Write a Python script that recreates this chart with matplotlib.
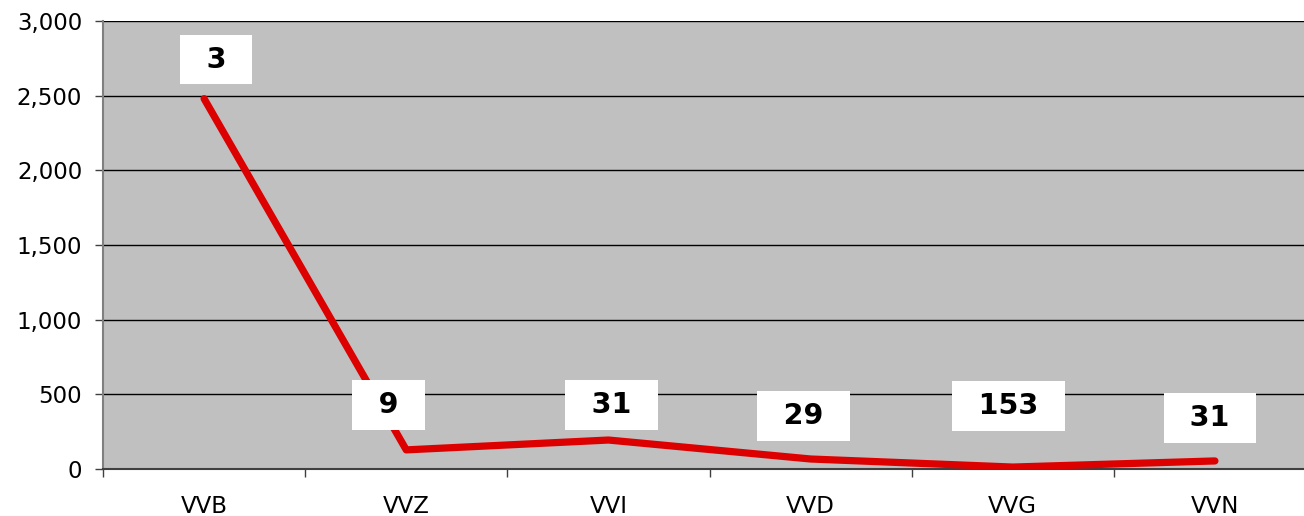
import matplotlib.pyplot as plt
from matplotlib.ticker import FixedLocator, FuncFormatter

categories = ["VVB", "VVZ", "VVI", "VVD", "VVG", "VVN"]
values = [2480, 128, 194, 67, 13, 54]
point_labels = ["3", "9", "31", "29", "153", "31"]

# label box offsets from their point, in pixels
label_offsets = [(12, 39), (-18, 45), (3, 35), (-7, 43), (-4, 61), (-5, 43)]

fig = plt.figure(figsize=(13.04, 5.16), dpi=100)
# plot area runs a bit past the right edge of the image, as in the original
ax = fig.add_axes([103 / 1304, 1 - 469 / 516, 1213 / 1304, (469 - 21) / 516])
ax.set_facecolor("#C0C0C0")

x = list(range(len(categories)))
ax.plot(x, values, color="#DD0000", lw=5.2, solid_capstyle="round",
        solid_joinstyle="round", zorder=3)

side = " \u2009"
for xi, v, lab, (dx, dy) in zip(x, values, point_labels, label_offsets):
    ax.annotate(side + lab + side[::-1], (xi, v), xytext=(dx, dy),
                textcoords="offset pixels", ha="center", va="center",
                fontsize=20.5, fontweight="bold", color="black",
                bbox=dict(boxstyle="square,pad=0.38", fc="white", ec="none"),
                zorder=4, annotation_clip=False)

ax.set_xlim(-0.5, len(categories) - 0.5)
ax.set_ylim(0, 3000)
ax.set_yticks(range(0, 3001, 500))
ax.yaxis.set_major_formatter(FuncFormatter(lambda v, p: f"{int(v):,}"))
ax.grid(axis="y", color="black", lw=1)
ax.set_axisbelow(True)

ax.xaxis.set_major_locator(FixedLocator([i - 0.5 for i in range(len(categories) + 1)]))
ax.xaxis.set_major_formatter(FuncFormatter(lambda v, p: ""))
ax.set_xticks(x, minor=True)
ax.set_xticklabels(categories, minor=True)
ax.tick_params(axis="x", which="major", length=6, width=1, color="#404040", direction="out")
ax.tick_params(axis="x", which="minor", length=0, pad=19, labelsize=16.5)
ax.tick_params(axis="y", length=6, width=1, color="#404040", pad=9, labelsize=16.5)

for s in ["top", "right"]:
    ax.spines[s].set_visible(False)
ax.spines["left"].set_color("#808080")
ax.spines["left"].set_linewidth(1.5)
ax.spines["bottom"].set_color("#404040")
ax.spines["bottom"].set_linewidth(1.5)

fig.savefig("out.png", dpi=100)
